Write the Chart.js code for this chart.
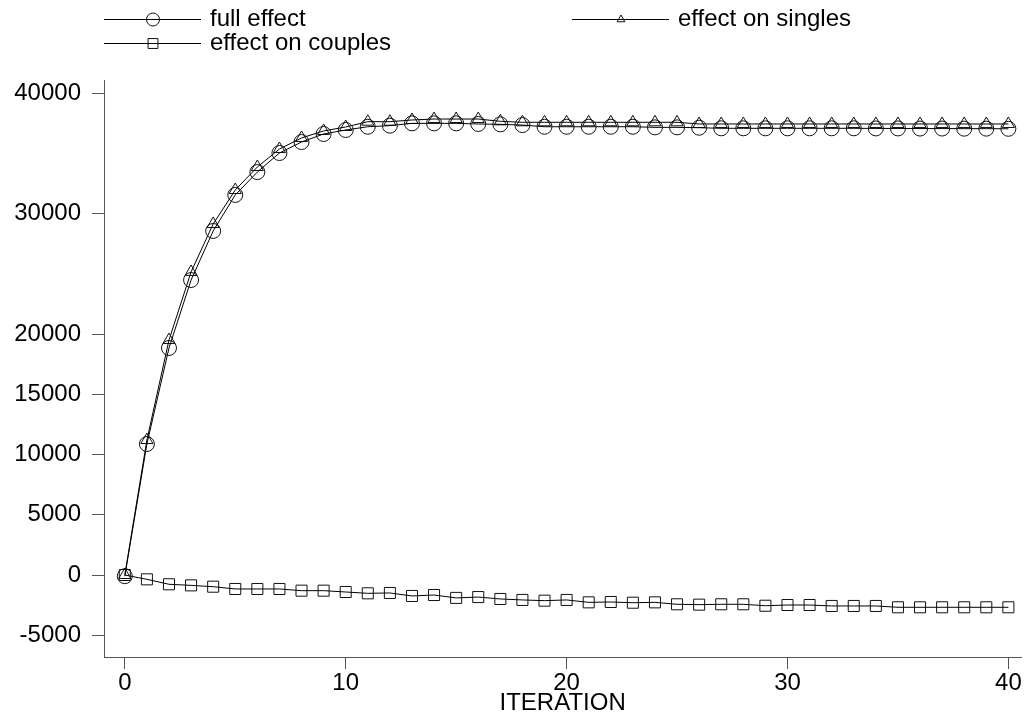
<!DOCTYPE html>
<html>
<head>
<meta charset="utf-8">
<script src="https://cdn.jsdelivr.net/npm/chart.js@4/dist/chart.umd.min.js"></script>
<style>
  html, body { margin: 0; padding: 0; background: #fff; }
  #wrap { width: 1030px; height: 718px; }
</style>
</head>
<body>
<div id="wrap"><canvas id="chart"></canvas></div>
<script>
const iterations = [0,1,2,3,4,5,6,7,8,9,10,11,12,13,14,15,16,17,18,19,20,
                    21,22,23,24,25,26,27,28,29,30,31,32,33,34,35,36,37,38,39,40];

const fullEffect = [-100, 10870, 18840, 24480, 28550, 31540, 33440, 35020, 35930, 36600, 36930,
                    37200, 37290, 37480, 37480, 37480, 37430, 37400, 37340, 37200, 37200,
                    37200, 37200, 37200, 37150, 37150, 37120, 37070, 37070, 37070, 37070,
                    37070, 37070, 37070, 37060, 37060, 37050, 37050, 37040, 37040, 37030];

const singlesEffect = [0, 11200, 19500, 25150, 29130, 31950, 33860, 35350, 36270, 36850, 37180,
                       37620, 37620, 37760, 37840, 37840, 37840, 37650, 37570, 37570, 37570,
                       37570, 37570, 37570, 37570, 37570, 37430, 37430, 37430, 37430, 37430,
                       37430, 37430, 37430, 37430, 37430, 37430, 37430, 37430, 37430, 37430];

const couplesEffect = [0, -360, -770, -860, -970, -1160, -1160, -1160, -1300, -1300, -1410,
                       -1520, -1490, -1740, -1660, -1900, -1830, -1990, -2070, -2130, -2070,
                       -2270, -2240, -2300, -2270, -2430, -2460, -2430, -2430, -2550, -2490,
                       -2490, -2570, -2570, -2570, -2680, -2680, -2680, -2680, -2680, -2680];

const yTicks = [-5000, 0, 5000, 10000, 15000, 20000, 30000, 40000];
const xTicks = [0, 10, 20, 30, 40];

const FONT = "'Liberation Sans', Arial, sans-serif";
const AXIS_COLOR = "#555";

const toPoints = (vals) => vals.map((v, i) => ({ x: iterations[i], y: v }));

const makeSeries = (label, vals, style, radius) => ({
    label: label,
    data: toPoints(vals),
    borderColor: "#000",
    borderWidth: 1,
    backgroundColor: "rgba(0,0,0,0)",
    pointStyle: style,
    pointRadius: radius,
    pointBorderColor: "#111",
    pointBorderWidth: 1,
    pointBackgroundColor: "rgba(0,0,0,0)",
    tension: 0,
    fill: false
});

// legend drawn by hand so it can sit in two columns like the original
const legendPlugin = {
    id: "handLegend",
    afterDraw(chart) {
        const ctx = chart.ctx;
        const slots = [
            { ds: 0, x: 104, y: 19, r: 6.5 },
            { ds: 1, x: 572, y: 19, r: 4.5 },
            { ds: 2, x: 104, y: 43, r: 7 }
        ];
        ctx.save();
        ctx.font = "24px " + FONT;
        ctx.textBaseline = "middle";
        ctx.textAlign = "left";
        slots.forEach((s) => {
            const ds = chart.data.datasets[s.ds];
            ctx.strokeStyle = "#000";
            ctx.lineWidth = 1;
            ctx.beginPath();
            ctx.moveTo(s.x, s.y + 0.5);
            ctx.lineTo(s.x + 97, s.y + 0.5);
            ctx.stroke();
            ctx.fillStyle = "rgba(0,0,0,0)";
            ctx.strokeStyle = "#111";
            Chart.helpers.drawPoint(ctx, {
                pointStyle: ds.pointStyle, radius: s.r, borderWidth: 1, rotation: 0
            }, s.x + 49, s.y + 0.5);
            ctx.fillStyle = "#000";
            ctx.fillText(ds.label, s.x + 106, s.y);
        });
        ctx.restore();
    }
};

new Chart(document.getElementById("chart").getContext("2d"), {
    type: "line",
    data: {
        datasets: [
            makeSeries("full effect", fullEffect, "circle", 7.5),
            makeSeries("effect on singles", singlesEffect, "triangle", 7),
            makeSeries("effect on couples", couplesEffect, "rect", 7.8)
        ]
    },
    options: {
        responsive: true,
        maintainAspectRatio: false,
        animation: false,
        layout: { padding: { top: 80, left: 0, right: 0, bottom: 0 } },
        plugins: {
            legend: { display: false },
            tooltip: { enabled: false }
        },
        scales: {
            x: {
                type: "linear",
                min: -0.942,
                max: 40.58,
                afterBuildTicks: (axis) => { axis.ticks = xTicks.map((v) => ({ value: v })); },
                afterFit: (axis) => { axis.height = 61; },
                grid: { drawOnChartArea: false, drawTicks: true, tickLength: 12, color: AXIS_COLOR },
                border: { color: AXIS_COLOR, width: 1 },
                ticks: { color: "#000", padding: 0, font: { family: FONT, size: 24 } },
                title: {
                    display: true,
                    text: "ITERATION",
                    color: "#000",
                    padding: { top: 0, bottom: 0 },
                    font: { family: FONT, size: 24 }
                }
            },
            y: {
                type: "linear",
                min: -6805,
                max: 41079,
                afterBuildTicks: (axis) => { axis.ticks = yTicks.map((v) => ({ value: v })); },
                afterFit: (axis) => { axis.width = 104; },
                grid: { drawOnChartArea: false, drawTicks: true, tickLength: 12, color: AXIS_COLOR },
                border: { color: AXIS_COLOR, width: 1 },
                ticks: {
                    color: "#000",
                    padding: 11,
                    font: { family: FONT, size: 24 },
                    callback: (v) => String(v)
                }
            }
        }
    },
    plugins: [legendPlugin]
});
</script>
</body>
</html>
